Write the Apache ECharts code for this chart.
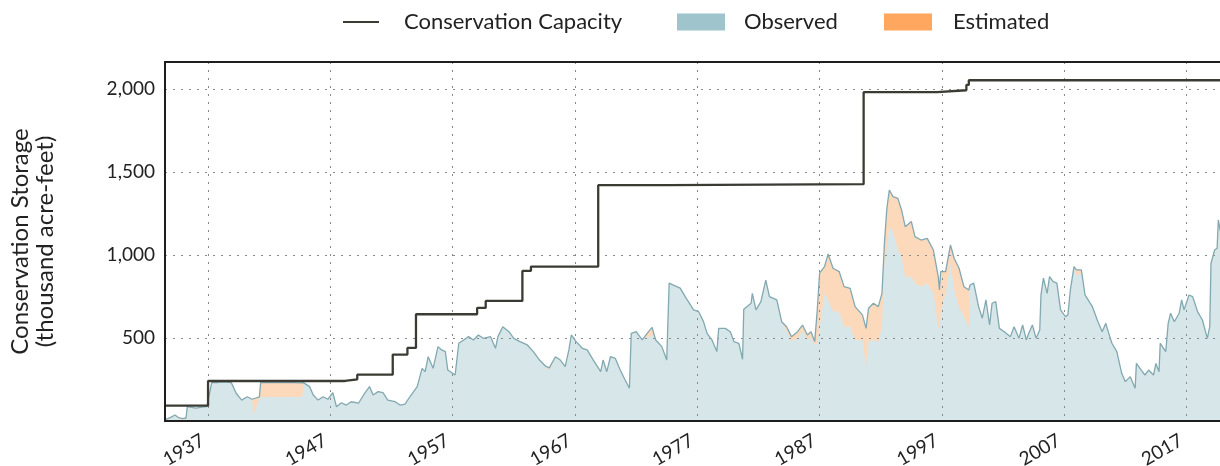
<!DOCTYPE html>
<html style="height: 100%">
<head>
<meta charset="utf-8">
</head>
<body style="height: 100%; margin: 0">
	<div id="container" style="width: 1220px; height: 466px"></div>
	<script type="text/javascript"
		src="https://cdn.jsdelivr.net/npm/echarts/dist/echarts.min.js"></script>
	<script type="text/javascript">
		// storage samples (thousand acre-feet), observed part + estimated part
		var years = [1933.48, 1933.9, 1934.3, 1934.6, 1934.9, 1935.2, 1935.3, 1936.0, 1936.5, 1936.9,
			1937.3, 1937.8, 1938.3, 1938.9, 1939.3, 1939.75, 1940.2, 1940.6, 1940.75, 1941.2,
			1941.3, 1942.0, 1943.0, 1944.0, 1944.6, 1944.65, 1944.8, 1945.3, 1945.6, 1946.0,
			1946.4, 1946.8, 1947.2, 1947.5, 1947.9, 1948.3, 1948.7, 1949.3, 1949.8, 1950.2,
			1950.5, 1950.9, 1951.3, 1951.7, 1952.3, 1952.7, 1953.1, 1953.5, 1954.1, 1954.5,
			1954.75, 1955.0, 1955.4, 1955.8, 1956.1, 1956.4, 1956.6, 1957.2, 1957.5, 1957.9,
			1958.3, 1958.7, 1959.1, 1959.5, 1960.1, 1960.5, 1960.7, 1961.1, 1961.6, 1962.0,
			1962.5, 1963.1, 1963.6, 1964.1, 1964.6, 1964.75, 1964.9, 1965.0, 1965.4, 1965.8,
			1966.2, 1966.5, 1966.7, 1967.1, 1967.6, 1968.0, 1968.5, 1969.1, 1969.3, 1969.6,
			1969.9, 1970.3, 1970.7, 1971.1, 1971.45, 1971.6, 1972.0, 1972.5, 1972.7, 1972.9,
			1973.3, 1973.6, 1974.1, 1974.5, 1974.7, 1975.0, 1975.6, 1976.1, 1976.7, 1977.1,
			1977.5, 1977.8, 1978.2, 1978.6, 1978.75, 1979.3, 1979.7, 1980.0, 1980.4, 1980.7,
			1980.8, 1981.4, 1981.5, 1981.8, 1982.2, 1982.6, 1982.9, 1983.5, 1983.9, 1984.3,
			1984.7, 1985.2, 1985.6, 1986.0, 1986.3, 1986.6, 1986.8, 1987.0, 1987.4, 1987.7,
			1988.1, 1988.6, 1989.0, 1989.5, 1989.9, 1990.5, 1990.8, 1991.0, 1991.4, 1991.8,
			1992.1, 1992.3, 1992.5, 1992.7, 1993.0, 1993.4, 1993.7, 1994.0, 1994.5, 1994.8,
			1995.3, 1995.8, 1996.3, 1996.7, 1996.8, 1996.9, 1997.3, 1997.7, 1998.0, 1998.4,
			1998.8, 1999.2, 1999.3, 1999.6, 2000.0, 2000.3, 2000.6, 2000.9, 2001.1, 2001.4,
			2001.7, 2002.1, 2002.6, 2002.9, 2003.3, 2003.6, 2003.9, 2004.1, 2004.4, 2004.7,
			2005.0, 2005.1, 2005.3, 2005.6, 2005.8, 2006.1, 2006.4, 2006.7, 2007.1, 2007.3,
			2007.5, 2007.8, 2008.0, 2008.4, 2008.5, 2008.7, 2009.3, 2009.7, 2010.1, 2010.4,
			2010.6, 2010.9, 2011.3, 2011.7, 2012.0, 2012.4, 2012.8, 2012.9, 2013.3, 2013.6,
			2013.9, 2014.3, 2014.5, 2014.75, 2014.85, 2015.3, 2015.5, 2015.7, 2016.0, 2016.4,
			2016.6, 2016.8, 2017.2, 2017.5, 2017.9, 2018.3, 2018.7, 2018.9, 2019.0, 2019.3,
			2019.5, 2019.6, 2019.75, 2019.9];
		var observed = [8, 20, 36, 12, 8, 18, 86, 77, 84, 86,
			231, 232, 236, 231, 167, 126, 146, 131, 40, 140,
			145, 145, 145, 145, 145, 110, 231, 207, 157, 126,
			146, 131, 171, 86, 110, 96, 116, 107, 167, 207,
			157, 177, 171, 126, 116, 96, 102, 146, 207, 317,
			297, 387, 317, 448, 428, 418, 307, 277, 468, 488,
			508, 488, 518, 498, 508, 438, 508, 568, 538, 498,
			478, 458, 418, 367, 330, 310, 310, 317, 387, 367,
			327, 428, 518, 478, 438, 428, 367, 297, 367, 297,
			387, 377, 307, 247, 197, 528, 538, 488, 508, 500,
			520, 488, 448, 367, 830, 820, 800, 739, 669, 659,
			600, 528, 488, 418, 558, 558, 538, 478, 468, 372,
			673, 709, 769, 669, 719, 849, 749, 729, 598, 540,
			480, 500, 540, 490, 505, 460, 470, 560, 769, 729,
			659, 659, 568, 568, 488, 488, 327, 478, 488, 478,
			568, 970, 1030, 1170, 1140, 1030, 990, 869, 869, 829,
			809, 829, 769, 568, 528, 649, 769, 950, 789, 689,
			628, 568, 819, 830, 689, 619, 729, 578, 709, 719,
			558, 538, 508, 568, 498, 578, 488, 528, 578, 498,
			548, 759, 860, 769, 869, 839, 830, 669, 628, 639,
			789, 930, 880, 885, 860, 759, 689, 608, 538, 588,
			538, 468, 418, 287, 237, 267, 197, 347, 307, 277,
			307, 277, 347, 297, 468, 418, 588, 649, 598, 649,
			729, 669, 759, 749, 659, 608, 498, 568, 950, 1030,
			1040, 1211, 1150, 1120];
		var estimated = [0, 0, 0, 8, 6, 0, 0, 0, 0, 0,
			0, 0, 0, 0, 0, 0, 0, 0, 92, 5,
			86, 88, 87, 86, 84, 121, 0, 0, 0, 0,
			0, 0, 0, 0, 0, 0, 0, 0, 0, 0,
			0, 0, 0, 0, 0, 0, 0, 0, 0, 0,
			0, 0, 0, 0, 0, 0, 0, 0, 0, 0,
			0, 0, 0, 0, 0, 0, 0, 0, 0, 0,
			0, 0, 0, 0, 0, 15, 10, 0, 0, 0,
			0, 0, 0, 0, 0, 0, 0, 0, 0, 0,
			0, 0, 0, 0, 0, 0, 0, 0, 0, 28,
			44, 0, 0, 0, 0, 0, 0, 0, 0, 0,
			0, 0, 0, 0, 0, 0, 0, 0, 0, 0,
			0, 0, 0, 0, 0, 0, 0, 0, 0, 28,
			28, 38, 38, 28, 33, 18, 189, 330, 161, 277,
			261, 241, 241, 231, 201, 151, 231, 201, 221, 211,
			201, 101, 251, 221, 211, 311, 281, 301, 332, 281,
			281, 271, 261, 301, 261, 251, 131, 110, 191, 231,
			181, 221, 0, 0, 0, 0, 0, 0, 0, 0,
			0, 0, 0, 0, 0, 0, 0, 0, 0, 0,
			0, 0, 0, 0, 0, 0, 0, 0, 0, 0,
			0, 0, 30, 25, 0, 0, 0, 0, 0, 0,
			0, 0, 0, 0, 0, 0, 0, 0, 0, 0,
			0, 0, 0, 0, 0, 0, 0, 0, 0, 0,
			0, 0, 0, 0, 0, 0, 0, 0, 0, 0,
			0, 0, 0, 0];

		// conservation capacity steps
		var capYears = [1933.48, 1937.0, 1948.2, 1949.2, 1952.1, 1953.3, 1954.0, 1959.0, 1959.7,
			1962.7, 1963.4, 1968.9, 1974.6, 1990.6, 1996.6, 1999.0, 1999.2, 2019.9];
		var capValues = [92, 241, 251, 279, 400, 440, 643, 681, 723,
			904, 930, 1420, 1426, 1980, 1992, 2024, 2052, 2052];

		var tickYears = [1937, 1947, 1957, 1967, 1977, 1987, 1997, 2007, 2017];

		var fontFam = 'Lato';
		var obsData = years.map(function(y, i) { return [y, observed[i]]; });
		var totalData = years.map(function(y, i) { return [y, observed[i] + estimated[i]]; });
		var capData = capYears.map(function(y, i) { return [y, capValues[i]]; });

		var dom = document.getElementById("container");
		var myChart = echarts.init(dom);
		var gridLine = { show: true, lineStyle: { color: '#8a8a8a', width: 1, type: [2, 6] } };

		myChart.setOption({
			animation: false,
			legend: [ {
				left: 343, top: 11, padding: 0, itemWidth: 36, itemHeight: 2,
				textStyle: { fontFamily: fontFam, fontSize: 22, color: '#222', padding: [0, 0, 0, 20] },
				data: [ { name: 'Conservation Capacity', icon: 'rect', itemStyle: { color: '#3b3a33', borderWidth: 0 } } ]
			}, {
				left: 677, top: 11, padding: 0, itemWidth: 48, itemHeight: 17,
				textStyle: { fontFamily: fontFam, fontSize: 22, color: '#222', padding: [0, 0, 0, 14] },
				data: [ { name: 'Observed', icon: 'rect', itemStyle: { color: '#9fc4cb', borderWidth: 0 } } ]
			}, {
				left: 884, top: 11, padding: 0, itemWidth: 48, itemHeight: 17,
				textStyle: { fontFamily: fontFam, fontSize: 22, color: '#222', padding: [0, 0, 0, 16] },
				data: [ { name: 'Estimated', icon: 'rect', itemStyle: { color: '#ffa65f', borderWidth: 0 } } ]
			} ],
			grid: {
				left: 165, top: 62, right: -2, bottom: 45,
				outerBoundsMode: 'none',
				show: true, borderColor: '#1e1e1e', borderWidth: 2, z: 6
			},
			xAxis: {
				type: 'value',
				min: 1933.48,
				max: 2019.9,
				z: 3,
				axisLine: { show: false },
				axisTick: { show: false, customValues: tickYears },
				splitLine: gridLine,
				axisLabel: {
					customValues: tickYears,
					rotate: 30,
					margin: 15,
					padding: [0, 6, 0, 0],
					fontFamily: fontFam,
					fontSize: 19,
					color: '#222',
					formatter: function(v) { return String(v); }
				}
			},
			yAxis: {
				type: 'value',
				min: 0,
				max: 2162,
				interval: 500,
				z: 3,
				name: 'Conservation Storage\n(thousand acre-feet)',
				nameLocation: 'middle',
				nameGap: 107,
				nameTextStyle: { fontFamily: fontFam, fontSize: 24, color: '#222', lineHeight: 25 },
				axisLine: { show: false },
				axisTick: { show: false },
				splitLine: gridLine,
				axisLabel: {
					showMinLabel: false,
					showMaxLabel: false,
					margin: 10,
					fontFamily: fontFam,
					fontSize: 19,
					color: '#222',
					formatter: function(v) { return v.toLocaleString('en-US'); }
				}
			},
			series: [ {
				name: 'Conservation Capacity',
				type: 'line',
				step: 'end',
				symbol: 'none',
				z: 5,
				lineStyle: { color: '#3b3a33', width: 2.3 },
				itemStyle: { color: '#3b3a33' },
				data: capData
			}, {
				name: 'Estimated',
				type: 'line',
				symbol: 'none',
				z: 1,
				lineStyle: { width: 0 },
				itemStyle: { color: '#ffa65f' },
				areaStyle: { color: '#fdd9bc', opacity: 1 },
				data: totalData
			}, {
				name: 'Observed',
				type: 'line',
				symbol: 'none',
				z: 2,
				lineStyle: { width: 0 },
				itemStyle: { color: '#9fc4cb' },
				areaStyle: { color: '#d7e6e9', opacity: 1 },
				data: obsData
			}, {
				name: 'Storage',
				type: 'line',
				symbol: 'none',
				z: 4,
				silent: true,
				lineStyle: { color: '#82a9b1', width: 1.3 },
				data: totalData
			} ]
		});
	</script>
</body>
</html>
